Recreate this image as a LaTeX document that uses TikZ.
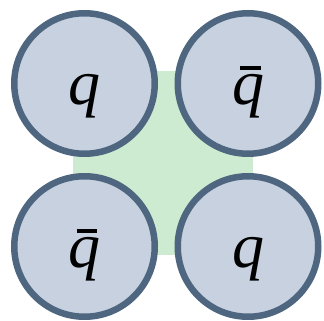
\documentclass[tikz,border=0pt]{standalone}
\usepackage{fontspec}
\setmainfont{Liberation Serif}[ItalicFont={Liberation Serif Italic}]
\definecolor{ringc}{HTML}{4E6680}
\definecolor{fillc}{HTML}{C7D1DF}
\definecolor{greenc}{HTML}{CDEBD0}
\begin{document}
\begin{tikzpicture}[x=1pt,y=1pt,
  quark/.style={circle,draw=ringc,fill=fillc,line width=6.5pt,minimum size=140.5pt,inner sep=0pt},
  lbl/.style={anchor=base,inner sep=0pt,font=\fontsize{64}{64}\selectfont\itshape},
  barline/.style={fill=black}]
\useasboundingbox (0,0) rectangle (324,321);
\fill[greenc] (73,66) rectangle (253,250);
\node[quark] (tl) at (84.5,237.5) {};
\node[quark] (tr) at (248,237.5) {};
\node[quark] (bl) at (84.5,74.5) {};
\node[quark] (br) at (248,74.5) {};
\node[lbl] (tlq) at ([yshift=-21pt]tl.center) {q};
\node[lbl] (trq) at ([yshift=-21pt]tr.center) {q};
\node[lbl] (blq) at ([yshift=-21pt]bl.center) {q};
\node[lbl] (brq) at ([yshift=-21pt]br.center) {q};
\fill[barline] ([xshift=-8pt,yshift=13.5pt]tr.center) rectangle ([xshift=12.5pt,yshift=17.5pt]tr.center);
\fill[barline] ([xshift=-8pt,yshift=13.5pt]bl.center) rectangle ([xshift=12.5pt,yshift=17.5pt]bl.center);
\end{tikzpicture}
\end{document}
